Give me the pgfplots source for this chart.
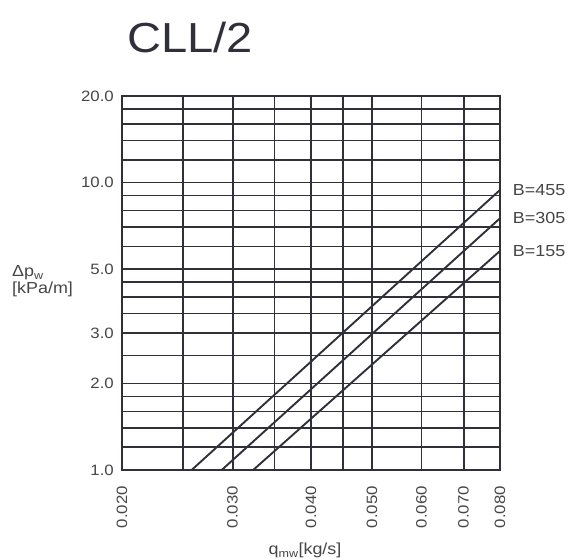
\documentclass[border=0pt]{standalone}
\usepackage{fontspec}
\setmainfont{Liberation Sans}[FakeStretch=1.12]
\usepackage{pgfplots}
\pgfplotsset{compat=1.18}
\definecolor{ink}{RGB}{48,48,58}
\definecolor{txt}{RGB}{70,70,72}
\begin{document}
\begin{tikzpicture}[x=1pt,y=1pt]
\useasboundingbox (0,0) rectangle (568,559);
\begin{axis}[
  at={(122pt,89pt)}, anchor=south west,
  scale only axis, width=378pt, height=374pt,
  xmode=log, ymode=log,
  xmin=0.02, xmax=0.08, ymin=1, ymax=20,
  xtick={0.02,0.03,0.04,0.05,0.06,0.07,0.08},
  xticklabels={0.020,0.030,0.040,0.050,0.060,0.070,0.080},
  minor xtick={0.025,0.035,0.045},
  ytick={1,2,3,5,10,20},
  yticklabels={1.0,2.0,3.0,5.0,10.0,20.0},
  minor ytick={1.2,1.4,1.6,1.8,2.5,3.5,4,4.5,6,7,8,9,12,14,16,18},
  grid=both,
  major grid style={ink, line width=1.9pt},
  minor grid style={ink, line width=1.5pt},
  axis line style={ink, line width=2.2pt},
  major tick length=0pt, minor tick length=0pt,
  x tick label style={rotate=90, anchor=east, inner sep=0pt, text=txt,
    font=\fontsize{15}{15}\selectfont},
  xticklabel shift=16pt,
  y tick label style={anchor=east, inner sep=0pt, text=txt,
    font=\fontsize{15}{15}\selectfont},
  yticklabel shift=8pt,
  clip=false,
]
\addplot[ink, line width=1.9pt] coordinates {(0.02582,1) (0.08,9.42)}
  node[pos=1, anchor=west, xshift=12pt, inner sep=0pt, text=txt, font=\fontsize{16}{16}\selectfont] {B=455};
\addplot[ink, line width=1.9pt] coordinates {(0.02883,1) (0.08,7.51)}
  node[pos=1, anchor=west, xshift=12pt, inner sep=0pt, text=txt, font=\fontsize{16}{16}\selectfont] {B=305};
\addplot[ink, line width=1.9pt] coordinates {(0.03236,1) (0.08,5.78)}
  node[pos=1, anchor=west, xshift=12pt, inner sep=0pt, text=txt, font=\fontsize{16}{16}\selectfont] {B=155};
\end{axis}
\node[anchor=base west, inner sep=0pt, text=ink, font=\fontsize{42}{42}\selectfont] at (127,506) {CLL/2};
\node[anchor=base west, inner sep=0pt, text=txt, font=\fontsize{16}{16}\selectfont] at (12,282) {Δp\textsubscript{w}};
\node[anchor=base west, inner sep=0pt, text=txt, font=\fontsize{16}{16}\selectfont] at (12,265) {[kPa/m]};
\node[anchor=base, inner sep=0pt, text=txt, font=\fontsize{16}{16}\selectfont] at (305,4) {q\textsubscript{mw}[kg/s]};
\end{tikzpicture}
\end{document}
